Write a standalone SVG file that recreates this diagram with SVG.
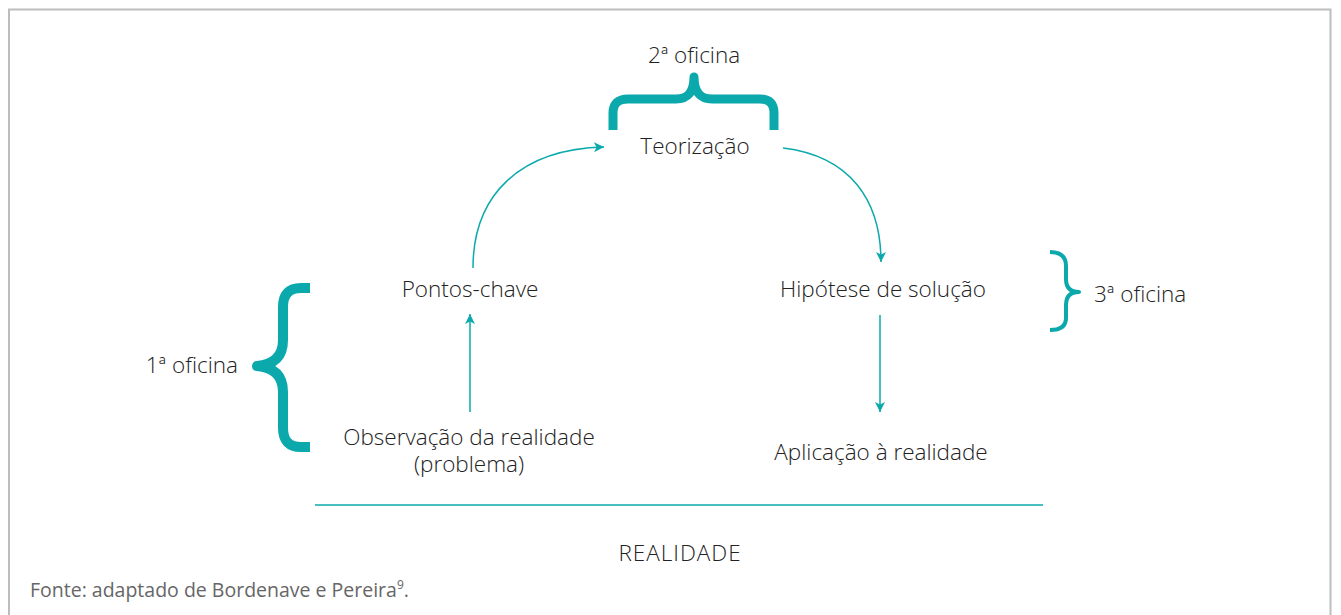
<svg xmlns="http://www.w3.org/2000/svg" width="1341" height="615" viewBox="0 0 1341 615">
<style>
.t{font-family:"Open Sans",Lato,"Liberation Sans",sans-serif;font-weight:300;font-size:22.5px;fill:#222}
.br{fill:none;stroke:#0ba9ac;stroke-linecap:butt;stroke-linejoin:round}
.ln{fill:none;stroke:#0ba9ac;stroke-width:1.5}
.src{font-family:"Open Sans",Lato,"Liberation Sans",sans-serif;font-size:19.5px;fill:#666}
</style>
<defs>
<marker id="ah" viewBox="0 0 10 10" refX="10" refY="5" markerWidth="10" markerHeight="10" markerUnits="userSpaceOnUse" orient="auto">
<path d="M0,0 L10,5 L0,10 L2.5,5 Z" fill="#0ba9ac"/>
</marker>
</defs>
<rect width="1341" height="615" fill="#fff"/>
<path d="M9,615 V9.5 H1330.5 V615" fill="none" stroke="#bdbdbd" stroke-width="2"/>
<g id="connectors">
<path class="ln" d="M473,268 C473,195 520,149 604,147" marker-end="url(#ah)"/>
<path class="ln" d="M783,148 C850,156 881,200 881,262" marker-end="url(#ah)"/>
<path class="ln" d="M470,412 V314" marker-end="url(#ah)"/>
<path class="ln" d="M880,315 V412" marker-end="url(#ah)"/>
<path class="ln" d="M315,505 H1043"/>
</g>
<g id="oficina2">
<text class="t" x="694" y="63" text-anchor="middle">2ª oficina</text>
<path class="br" stroke-width="9" d="M613,130 V113 Q613,99 628,99 H676 Q694,99 694,77 Q694,99 712,99 H760 Q774,99 774,113 V130"/>
</g>
<g id="teorizacao"><text class="t" x="695" y="154" text-anchor="middle">Teorização</text></g>
<g id="pontos"><text class="t" x="470" y="297" text-anchor="middle">Pontos-chave</text></g>
<g id="hipotese"><text class="t" x="883" y="297" text-anchor="middle">Hipótese de solução</text></g>
<g id="observacao">
<text class="t" text-anchor="middle"><tspan x="469" y="445">Observação da realidade</tspan><tspan x="469" y="472">(problema)</tspan></text>
</g>
<g id="aplicacao"><text class="t" x="881" y="460" text-anchor="middle">Aplicação à realidade</text></g>
<g id="oficina1">
<path class="br" stroke-width="10" d="M310,288 H301 Q283,288 283,307 V340 Q283,364 257,366 Q283,368 283,392 V428 Q283,447 301,447 H310"/>
<text class="t" x="238" y="373" text-anchor="end">1ª oficina</text>
</g>
<g id="oficina3">
<path class="br" stroke-width="4" d="M1050,252 Q1066,252 1066,266 V279 Q1066,292 1079,292 Q1066,292 1066,305 V318 Q1066,330 1050,330"/>
<text class="t" x="1094" y="302">3ª oficina</text>
</g>
<g id="realidade"><text class="t" x="680" y="561" text-anchor="middle" letter-spacing="1">REALIDADE</text></g>
<text class="src" x="30" y="597">Fonte: adaptado de Bordenave e Pereira<tspan font-size="12" dy="-8">9</tspan><tspan dy="8">.</tspan></text>
</svg>
